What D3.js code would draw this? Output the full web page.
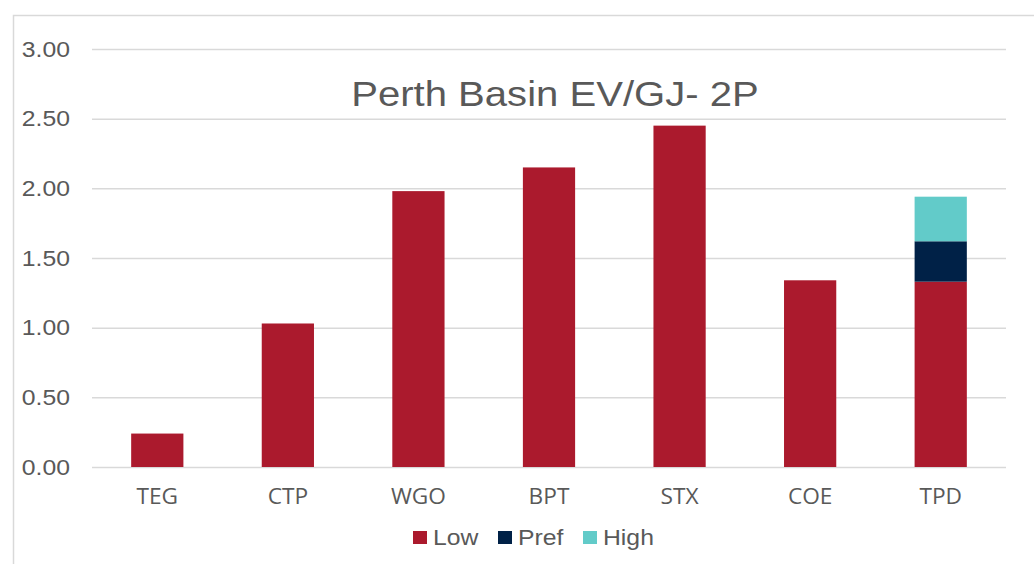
<!DOCTYPE html>
<html><head><meta charset="utf-8">
<script src="https://cdn.jsdelivr.net/npm/d3@7"></script>
<style>body{margin:0;background:#fff}svg{display:block}</style>
</head><body>
<svg id="c" width="1034" height="564"></svg>
<script>
const categories = ["TEG","CTP","WGO","BPT","STX","COE","TPD"];
const lowValues  = [0.24, 1.03, 1.98, 2.15, 2.45, 1.34, 1.33];
const prefValues = [0, 0, 0, 0, 0, 0, 0.29];
const highValues = [0, 0, 0, 0, 0, 0, 0.32];
const seriesNames = ["Low","Pref","High"];
const yTicks = [0, 0.5, 1, 1.5, 2, 2.5, 3];
const title = "Perth Basin EV/GJ- 2P";

const colors = {Low:"#AB1A2D", Pref:"#002147", High:"#62CBC9"};
const svg = d3.select("#c");
const M = {l:92, r:1006, t:49, b:467};
const stretch = (sel, k) => sel.each(function(){
  const len = this.getComputedTextLength();
  d3.select(this).attr("textLength", len*k).attr("lengthAdjust","spacingAndGlyphs");
});

svg.append("rect").attr("x",13.5).attr("y",15.5).attr("width",1040).attr("height",600)
  .attr("fill","none").attr("stroke","#d9d9d9").attr("stroke-width",1.5);

const x = d3.scaleBand().domain(categories).range([M.l, M.r]).paddingInner(0.6).paddingOuter(0.3);
const y = d3.scaleLinear().domain([0,3]).range([M.b, M.t]);

const yAxis = d3.axisLeft(y).tickValues(yTicks).tickFormat(d3.format(".2f")).tickSize(-(M.r-M.l)).tickPadding(22);
const gy = svg.append("g").attr("transform",`translate(${M.l},0)`).call(yAxis);
gy.select(".domain").remove();
gy.selectAll("line").attr("stroke","#d9d9d9").attr("stroke-width",1.5);
gy.selectAll("text").attr("fill","#595959").style("font-family","'Liberation Sans', Arial, sans-serif").style("font-size","22.5px").call(stretch,1.1);

const rows = categories.map((c,i)=>({cat:c, Low:lowValues[i], Pref:prefValues[i], High:highValues[i]}));
const stack = d3.stack().keys(seriesNames)(rows);
svg.append("g").selectAll("g").data(stack).join("g").attr("fill",d=>colors[d.key])
  .selectAll("rect").data(d=>d.filter(p=>p[1]-p[0]>0)).join("rect")
  .attr("x",d=>x(d.data.cat)).attr("width",x.bandwidth())
  .attr("y",d=>y(d[1])).attr("height",d=>y(d[0])-y(d[1]));

const xAxis = d3.axisBottom(x).tickSize(0).tickPadding(22);
const gx = svg.append("g").attr("transform",`translate(0,${M.b})`).call(xAxis);
gx.select(".domain").remove();
gx.selectAll("text").attr("fill","#595959").style("font-family","'Open Sans', sans-serif").style("font-size","21px").call(stretch,1.08);

svg.append("text").attr("x",555).attr("y",106).attr("text-anchor","middle")
  .attr("fill","#595959").style("font-family","'Liberation Sans', Arial, sans-serif").style("font-size","35px").text(title).call(stretch,1.145);

const legX = [413, 498, 583];
const lg = svg.append("g").selectAll("g").data(seriesNames).join("g")
  .attr("transform",(d,i)=>`translate(${legX[i]},531)`);
lg.append("rect").attr("width",14).attr("height",13).attr("fill",d=>colors[d]);
lg.append("text").attr("x",20).attr("y",14).attr("fill","#595959")
  .style("font-family","'Liberation Sans', Arial, sans-serif").style("font-size","22px").text(d=>d).call(stretch,1.125);
</script>
</body></html>
